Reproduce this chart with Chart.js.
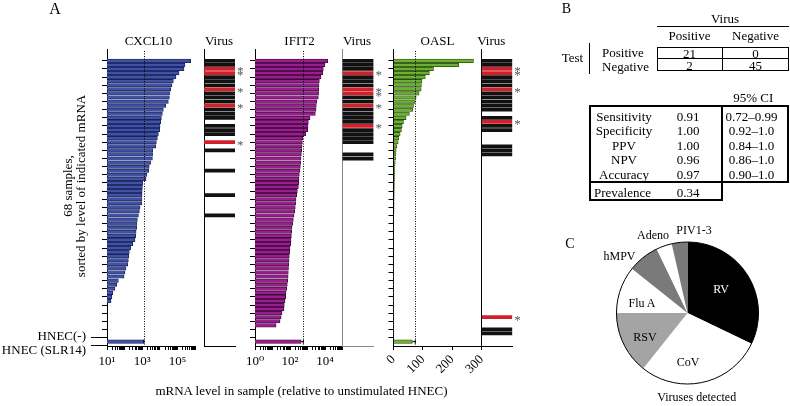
<!DOCTYPE html>
<html>
<head>
<meta charset="utf-8">
<title>mRNA levels, virus detection</title>
<script src="https://cdn.jsdelivr.net/npm/chart.js@4.4.1/dist/chart.umd.min.js"></script>
<style>
  html, body { margin: 0; padding: 0; background: #fff; }
  #fig { position: relative; width: 790px; height: 406px; overflow: hidden;
         font-family: "Liberation Serif", "DejaVu Serif", serif; color: #000; }
  #fig canvas { position: absolute; left: 0; top: 0; }
  .lbl { position: absolute; white-space: nowrap; font-size: 13px; line-height: 1; }
  .c { transform: translate(-50%, -50%); }
  .r { transform: translate(-100%, -50%); }
  .l { transform: translate(0, -50%); }
  .rule { position: absolute; background: #000; }
  .box { position: absolute; box-sizing: border-box; border: 2px solid #000; }
</style>
</head>
<body>
<div id="fig"></div>
<script>
// 68 samples, each panel sorted by its own gene (row 0 = highest)
const cxcl10 = [569000, 269000, 237000, 123000, 83000, 59000, 49000, 41500, 36000, 35000,
  30500, 21600, 15900, 14000, 12300, 11300, 10300, 10000, 8300, 7300,
  6400, 6000, 4000, 3900, 3800, 3000, 2500, 2350, 1870, 1650,
  1070, 1030, 1000, 980, 960, 930, 750, 690, 610, 530,
  500, 490, 450, 430, 390, 290, 220, 185, 170, 163,
  150, 120, 105, 93, 44, 35.5, 28, 21, 19, 17,
  8.5, 7, 6, 5, 4, 3, 2.5, 2];
const ifit2 = [14200, 10000, 8000, 7400, 5900, 4750, 4550, 4350, 4300, 4150,
  3330, 3180, 3070, 2800, 1390, 1120, 1070, 1020, 790, 530,
  510, 485, 465, 445, 425, 405, 390, 370, 340, 325,
  315, 300, 263, 240, 220, 210, 200, 185, 170, 155,
  142, 130, 125, 120, 114, 109, 100, 96, 91, 88,
  84, 82, 80, 78, 74, 70, 65, 59, 57, 52,
  47, 45.5, 35, 31, 27, 16, 0.8, 0.6];
const oasl = [272, 222, 136, 122, 108, 97, 95, 94, 87, 77,
  74, 68, 66, 54, 43, 34, 29.5, 27, 22.6, 18,
  16, 11.5, 9, 8, 7, 6, 5, 4.5, 4, 3.5,
  3, 2.8, 2.6, 2.4, 2.2, 2.0, 1.9, 1.8, 1.7, 1.6,
  1.5, 1.4, 1.3, 1.25, 1.2, 1.15, 1.1, 1.05, 1.0, 0.95,
  0.9, 0.85, 0.8, 0.75, 0.7, 0.65, 0.6, 0.55, 0.5, 0.45,
  0.4, 0.38, 0.35, 0.3, 0.28, 0.25, 0.2, 0.15];

// controls: HNEC(-) and HNEC (SLR14), rows 68 and 69
const controlLabels = ['HNEC(-)', 'HNEC (SLR14)'];
const cxcl10Controls = [1, 1200];
const ifit2Controls = [1, 430];
const oaslControls = [1, 64];
const cxcl10Cutoff = 1260;
const ifit2Cutoff = 575;
const oaslCutoff = 74;

// rows with a virus detected, and the starred (red) ones
const cxcl10Virus = [0, 1, 2, 3, 4, 5, 6, 7, 8, 9, 10, 11, 12, 13, 14, 16, 17, 18, 20, 22, 27, 33, 38];
const cxcl10Stars = [2, 3, 7, 11, 20];
const ifit2Virus = [0, 1, 2, 3, 4, 5, 6, 7, 8, 9, 10, 11, 12, 13, 14, 15, 16, 17, 18, 19, 20, 23, 24];
const ifit2Stars = [3, 7, 8, 11, 16];
const oaslVirus = [0, 1, 2, 3, 4, 5, 6, 7, 8, 9, 10, 11, 12, 14, 15, 16, 17, 21, 22, 23, 63, 66, 67];
const oaslStars = [2, 3, 7, 15, 63];

// axis tick labels
const cxcl10TickValues = [10, 1e3, 1e5];
const cxcl10TickLabels = ['10¹', '10³', '10⁵'];
const ifit2TickValues = [1, 1e2, 1e4];
const ifit2TickLabels = ['10⁰', '10²', '10⁴'];

// panel B
const virusHeader = ['Positive', 'Negative'];
const testRows = ['Positive', 'Negative'];
const testCounts = [[21, 0], [2, 45]];
const statNames = ['Sensitivity', 'Specificity', 'PPV', 'NPV', 'Accuracy'];
const statValues = ['0.91', '1.00', '1.00', '0.96', '0.97'];
const statCI = ['0.72–0.99', '0.92–1.0', '0.84–1.0', '0.86–1.0', '0.90–1.0'];
const prevalence = '0.34';

// panel C
const pieLabels = ['RV', 'CoV', 'RSV', 'Flu A', 'hMPV', 'Adeno', 'PIV1-3'];
const pieCounts = [9, 8, 4, 3, 2, 1, 1];
const pieColors = ['#000000', '#ffffff', '#a4a4a4', '#ffffff', '#7a7a7a', '#ffffff', '#7a7a7a'];

const W = 790, H = 406;
const SERIF = '"Liberation Serif", "DejaVu Serif", serif';
const axisTop = 49, axisBottom = 346;
const rowMin = -1.84, rowMax = 69;
const rowTicks = [];
for (let r = 1; r < 68; r += 2) rowTicks.push(r);

const fig = document.getElementById('fig');

function makeCanvas() {
  const c = document.createElement('canvas');
  c.width = W; c.height = H;
  fig.appendChild(c);
  return c;
}

function text(str, x, y, cls = 'c', extra = '') {
  const d = document.createElement('div');
  d.className = 'lbl ' + cls;
  d.style.cssText = `left:${x}px;top:${y}px;${extra}`;
  d.textContent = str;
  fig.appendChild(d);
  return d;
}

function rule(x, y, w, h) {
  const d = document.createElement('div');
  d.className = 'rule';
  d.style.cssText = `left:${x}px;top:${y}px;width:${w}px;height:${h}px;`;
  fig.appendChild(d);
}

function box(x, y, w, h, bw = 2) {
  const d = document.createElement('div');
  d.className = 'box';
  d.style.cssText = `left:${x}px;top:${y}px;width:${w}px;height:${h}px;border-width:${bw}px;`;
  fig.appendChild(d);
}

function rowScale(withTicks, borderColor = '#000') {
  return {
    type: 'linear', reverse: true, min: rowMin, max: rowMax,
    afterBuildTicks: s => { s.ticks = rowTicks.map(v => ({ value: v })); },
    afterFit: s => { s.width = withTicks ? 6 : 0; },
    ticks: { display: false },
    grid: { display: withTicks, drawOnChartArea: false, tickLength: 5, tickColor: '#000', tickWidth: 1 },
    border: { display: true, color: borderColor, width: 1 }
  };
}

function logScale(min, max, tickValues, tickLabels) {
  return {
    type: 'logarithmic', min, max,
    afterBuildTicks: s => {
      const t = [];
      const p0 = Math.round(Math.log10(min)), p1 = Math.round(Math.log10(max));
      for (let p = p0; p < p1; p++) {
        for (let m = 1; m < 10; m++) t.push({ value: m * Math.pow(10, p) });
      }
      t.push({ value: max });
      s.ticks = t;
    },
    afterFit: s => { s.height = 45; },
    ticks: {
      autoSkip: false, maxRotation: 0, minRotation: 0, padding: 4, color: '#000',
      font: { family: SERIF, size: 13 },
      callback: v => {
        const i = tickValues.findIndex(t => Math.abs(t - v) < t * 1e-6);
        return i < 0 ? '' : tickLabels[i];
      }
    },
    grid: { drawOnChartArea: false, tickLength: 4, tickColor: '#000' },
    border: { display: true, color: '#000', width: 1 }
  };
}

// dotted cutoff line and the whisker on the SLR14 bar
function cutoffPlugin(cutoff, slr14) {
  return {
    id: 'cutoff',
    afterDatasetsDraw(chart) {
      const { ctx, chartArea, scales } = chart;
      const x = scales.x.getPixelForValue(cutoff);
      const x0 = scales.x.getPixelForValue(slr14);
      const y = scales.y.getPixelForValue(69);
      ctx.save();
      ctx.strokeStyle = '#000';
      ctx.lineWidth = 1;
      ctx.setLineDash([1, 1.5]);
      ctx.beginPath();
      ctx.moveTo(Math.round(x) + 0.5, chartArea.top + 2);
      ctx.lineTo(Math.round(x) + 0.5, chartArea.bottom);
      ctx.stroke();
      ctx.setLineDash([]);
      ctx.beginPath();
      ctx.moveTo(x0, y); ctx.lineTo(x, y);
      ctx.moveTo(x, y - 2); ctx.lineTo(x, y + 2);
      ctx.stroke();
      ctx.restore();
    }
  };
}

function genePanel(o) {
  const data = o.values.concat(o.controls).map((v, i) => ({ x: v, y: i }));
  new Chart(makeCanvas(), {
    type: 'bar',
    data: {
      datasets: [{
        data,
        backgroundColor: o.fill,
        borderColor: o.edge,
        borderWidth: 0.8,
        borderSkipped: 'start',
        barThickness: 3.5,
        clip: { left: 0, top: 4, right: 4, bottom: 4 }
      }]
    },
    options: {
      indexAxis: 'y', responsive: false, animation: false,
      layout: { padding: { left: o.left - 6, right: W - o.right, top: axisTop, bottom: H - axisBottom - 45 } },
      plugins: { legend: { display: false }, tooltip: { enabled: false } },
      scales: { x: o.xScale, y: rowScale(true) }
    },
    plugins: [cutoffPlugin(o.cutoff, o.controls[1])]
  });
}

function starPlugin(stars) {
  return {
    id: 'stars',
    afterDatasetsDraw(chart) {
      const { ctx, chartArea, scales } = chart;
      ctx.save();
      ctx.fillStyle = '#555';
      ctx.font = '13px ' + SERIF;
      ctx.textAlign = 'left';
      ctx.textBaseline = 'middle';
      stars.forEach(r => ctx.fillText('*', chartArea.right + 2, scales.y.getPixelForValue(r) + 3));
      ctx.restore();
    }
  };
}

function virusPanel(rows, stars, left, right, lineColor) {
  new Chart(makeCanvas(), {
    type: 'bar',
    data: {
      datasets: [{
        data: rows.map(r => ({ x: 1, y: r })),
        backgroundColor: rows.map(r => stars.includes(r) ? '#d2202a' : '#111'),
        borderWidth: 0,
        barThickness: 3.1
      }]
    },
    options: {
      indexAxis: 'y', responsive: false, animation: false,
      layout: { padding: { left, right: W - right, top: axisTop, bottom: H - axisBottom } },
      plugins: { legend: { display: false }, tooltip: { enabled: false } },
      scales: {
        x: {
          type: 'linear', min: 0, max: 1,
          afterFit: s => { s.height = 0; },
          ticks: { display: false }, grid: { display: false },
          border: { display: true, color: lineColor, width: 1 }
        },
        y: rowScale(false, lineColor)
      }
    },
    plugins: [starPlugin(stars)]
  });
}

// --- panel A ---
genePanel({
  values: cxcl10, controls: cxcl10Controls, cutoff: cxcl10Cutoff,
  left: 107, right: 195, fill: '#4052a3', edge: '#19205a',
  xScale: logScale(10, 1e6, cxcl10TickValues, cxcl10TickLabels)
});
virusPanel(cxcl10Virus, cxcl10Stars, 204, 235, '#000');

genePanel({
  values: ifit2, controls: ifit2Controls, cutoff: ifit2Cutoff,
  left: 255, right: 342.5, fill: '#9a1f8e', edge: '#3d0838',
  xScale: logScale(1, 1e5, ifit2TickValues, ifit2TickLabels)
});
virusPanel(ifit2Virus, ifit2Stars, 342.5, 373.5, '#888');

genePanel({
  values: oasl, controls: oaslControls, cutoff: oaslCutoff,
  left: 393.5, right: 481.7, fill: '#6cb033', edge: '#2b4a12',
  xScale: {
    type: 'linear', min: 0, max: 300,
    afterFit: s => { s.height = 45; },
    ticks: { stepSize: 100, autoSkip: false, minRotation: 45, maxRotation: 45, padding: 2, color: '#000',
             font: { family: SERIF, size: 13 } },
    grid: { drawOnChartArea: false, tickLength: 4, tickColor: '#000' },
    border: { display: true, color: '#000', width: 1 }
  }
});
virusPanel(oaslVirus, oaslStars, 481.7, 512.3, '#000');

text('A', 55, 9, 'c', 'font-size:16px;');
text('CXCL10', 148.5, 40);
text('Virus', 219, 40);
text('IFIT2', 299.5, 40);
text('Virus', 357, 40);
text('OASL', 437.5, 40);
text('Virus', 491.3, 40);
text('mRNA level in sample (relative to unstimulated HNEC)', 301.5, 390);
const yTitle = text('', 74, 186, 'c', 'transform:translate(-50%,-50%) rotate(-90deg);text-align:center;line-height:13px;');
yTitle.innerHTML = '68 samples,<br>sorted by level of indicated mRNA';
text(controlLabels[0], 86, 335, 'r');
text(controlLabels[1], 86, 349, 'r');
rule(90.7, 336.5, 17.3, 1);
rule(90.7, 345.3, 16.3, 1);

// --- panel B ---
text('B', 566.5, 9, 'c', 'font-size:14px;');
text('Virus', 725, 18);
rule(657, 26, 132, 1);
text(virusHeader[0], 689.5, 35);
text(virusHeader[1], 755.5, 35);
box(657, 46.5, 132, 24.5, 1);
rule(722, 46.5, 1, 24.5);
rule(657, 58.3, 132, 1);
testCounts.forEach((row, i) => {
  text(String(row[0]), 689.5, 52.5 + i * 12);
  text(String(row[1]), 755.5, 52.5 + i * 12);
  text(testRows[i], 602, 51.7 + i * 14.6, 'l');
});
text('Test', 572.5, 57);
rule(589, 43, 1.3, 31);

text('95% CI', 753.3, 96.7);
box(589, 105, 200, 78);
rule(721, 105, 2, 78);
box(589, 181, 134, 19.5);
statNames.forEach((n, i) => {
  const y = 115.5 + i * 14.6;
  text(n, 624, y);
  text(statValues[i], 688, y);
  text(statCI[i], 751.5, y);
});
text('Prevalence', 594, 191.5, 'l');
text(prevalence, 688, 191.5);

// --- panel C ---
const pieOutline = {
  id: 'pieOutline',
  afterDatasetsDraw(chart) {
    const arc = chart.getDatasetMeta(0).data[0];
    const ctx = chart.ctx;
    ctx.save();
    ctx.strokeStyle = '#000';
    ctx.lineWidth = 1;
    ctx.beginPath();
    ctx.arc(arc.x, arc.y, arc.outerRadius, 0, Math.PI * 2);
    ctx.stroke();
    ctx.restore();
  }
};
new Chart(makeCanvas(), {
  type: 'pie',
  data: { labels: pieLabels, datasets: [{ data: pieCounts, backgroundColor: pieColors, borderWidth: 0 }] },
  options: {
    responsive: false, animation: false,
    layout: { padding: { left: 616.5, right: W - 758.5, top: 242, bottom: H - 384 } },
    plugins: { legend: { display: false }, tooltip: { enabled: false } }
  },
  plugins: [pieOutline]
});

text('C', 570, 243.5, 'c', 'font-size:14px;');
const pieLabelPos = [[721, 288.5, '#fff'], [688, 361.7], [645, 336.7], [642, 303], [619.5, 255.5], [653, 234.7], [694, 230]];
pieLabels.forEach((l, i) => {
  const p = pieLabelPos[i];
  text(l, p[0], p[1], 'c', 'font-size:12px;' + (p[2] ? 'color:' + p[2] + ';' : ''));
});
text('Viruses detected', 696.7, 397, 'c', 'font-size:12px;');
</script>
</body>
</html>
